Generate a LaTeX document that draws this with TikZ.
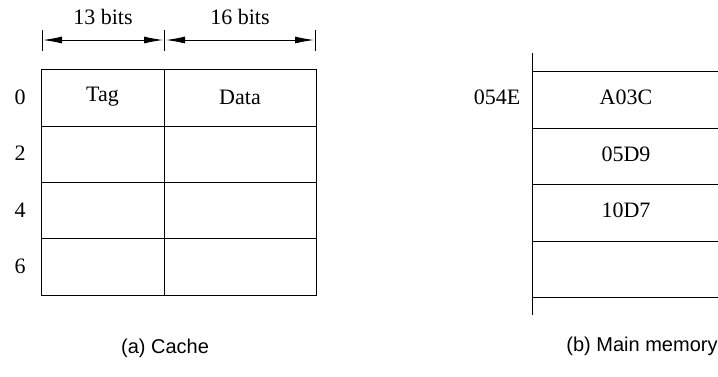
\documentclass[tikz,border=0pt]{standalone}
\usepackage{fontspec}
\setmainfont{Liberation Serif}
\newfontfamily\capfont{Liberation Sans}
\usetikzlibrary{arrows.meta}
\begin{document}
\begin{tikzpicture}[x=1pt,y=-1pt,line width=1pt,
  lbl/.style={font=\fontsize{22}{25}\selectfont,inner sep=0pt},
  captxt/.style={font=\capfont\fontsize{20}{24}\selectfont,inner sep=0pt},
  dimline/.style={{Latex[length=19pt,width=7pt]}-{Latex[length=19pt,width=7pt]},line width=0.9pt}]
\useasboundingbox (0,0) rectangle (718,376);
% cache table
\draw (41,69) rectangle (316,295);
\draw (164,69) -- (164,295);
\foreach \yy in {126,182,238} \draw (41,\yy) -- (316,\yy);
\node[lbl] (tag) at (102.5,97) {Tag};
\node[lbl] (data) at (240,97) {Data};
\node[lbl] (r0) at (20,97) {0};
\node[lbl] (r2) at (20,153) {2};
\node[lbl] (r4) at (20,210) {4};
\node[lbl] (r6) at (20,266) {6};
% dimension lines
\coordinate (k1) at (43,40);
\coordinate (k2a) at (163,40);
\coordinate (k2b) at (166,40);
\coordinate (k3) at (314,40);
\foreach \xx in {42,164,315} \draw (\xx,30) -- (\xx,51);
\draw[dimline] (k1) -- (k2a);
\draw[dimline] (k2b) -- (k3);
\node[lbl] (b13) at (103,17) {13 bits};
\node[lbl] (b16) at (240,17) {16 bits};
% main memory
\draw (532,53) -- (532,315);
\foreach \yy in {71,128,184,241,297} \draw (532,\yy) -- (718,\yy);
\node[lbl] (addr) at (497,97) {054E};
\node[lbl] (m1) at (626,97) {A03C};
\node[lbl] (m2) at (626,154) {05D9};
\node[lbl] (m3) at (626,210) {10D7};
% captions
\node[captxt] (capa) at (165,348) {(a) Cache};
\node[captxt] (capb) at (642,346) {(b) Main memory};
\end{tikzpicture}
\end{document}
